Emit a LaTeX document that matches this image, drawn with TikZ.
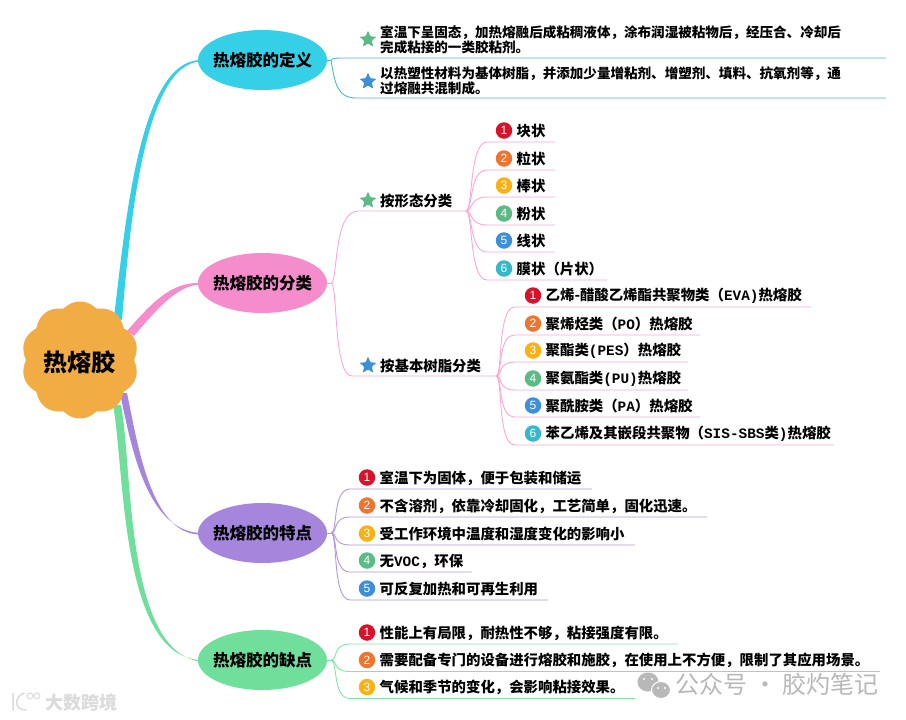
\documentclass[tikz,border=0pt]{standalone}
\usepackage{fontspec}
\setmainfont{Noto Sans CJK SC}
\newfontfamily\latinm{Liberation Mono}
\newfontfamily\digitf{Liberation Sans}
\usetikzlibrary{shapes.geometric}
\definecolor{b1}{HTML}{D7122A}
\definecolor{b2}{HTML}{EE7530}
\definecolor{b3}{HTML}{FBB014}
\definecolor{b4}{HTML}{5CBA85}
\definecolor{b5}{HTML}{3D8FD8}
\definecolor{b6}{HTML}{35B8C8}
\definecolor{cCyan}{HTML}{35D0E8}
\definecolor{cPink}{HTML}{F58CCB}
\definecolor{cPurple}{HTML}{A586DC}
\definecolor{cGreen}{HTML}{70DF9C}
\definecolor{cRoot}{HTML}{F2AC44}
\definecolor{wm}{HTML}{B8B8B8}
\tikzset{
  topic/.style={ellipse,minimum width=129pt,minimum height=60pt,inner xsep=-5pt,inner ysep=0pt,font=\fontsize{16.5}{18}\selectfont\bfseries},
  bulletdot/.style={circle,minimum size=16.5pt,inner sep=0pt,text=white,font=\fontsize{12}{12}\selectfont\digitf},
  label/.style={anchor=west,inner sep=0pt,font=\fontsize{14.4}{15}\selectfont\bfseries,align=left},
  deflabel/.style={anchor=west,inner sep=0pt,font=\fontsize{13.55}{15}\selectfont\bfseries,align=left},
  starmark/.style={star,star points=5,star point ratio=2.3,minimum size=18pt,inner sep=0pt,rounded corners=1pt},
  lnCyan/.style={draw=cCyan!55!teal!80,line width=0.9pt},
  lnPink/.style={draw=cPink!75,line width=0.9pt},
  lnPurple/.style={draw=cPurple!85,line width=0.9pt},
  lnGreen/.style={draw=cGreen!85,line width=0.9pt}
}
\newcommand{\lat}[1]{{\latinm #1}}
% name, source, line style, start x, line y, end x, bullet x, number, text
\newcommand{\mmitem}[9]{%
  \coordinate (#1-s) at (#4,#5);
  \coordinate (#1-e) at (#6,#5);
  \draw[#3] (#2) .. controls +(7,0) and ([xshift=-18pt]#1-s) .. (#1-s) -- (#1-e);
  \node[bulletdot,fill=b#8] (#1-b) at (#7,#5-11.5) {#8};
  \node[label] (#1-t) at (#7+12.5,#5-11) {#9};
}
\begin{document}
\begin{tikzpicture}[x=1pt,y=-1pt]
\useasboundingbox (0,0) rectangle (906,720);
\fill[white] (0,0) rectangle (906,720);

\path (262.5,60) node[topic] (def) {} (262.5,283) node[topic] (cls) {} (262.5,533) node[topic] (fea) {} (262.5,660) node[topic] (dis) {};

% tapered branches
\fill[cCyan] (114,317) .. controls (125,230) and (138,62) .. ([xshift=2pt]def.west) -- ([xshift=2pt,yshift=-1.5pt]def.west) .. controls (145,65) and (130,220) .. (122,320) -- cycle;
\fill[cPink] (127,331) .. controls (150,305) and (170,282) .. ([xshift=2pt]cls.west) -- ([xshift=2pt,yshift=-1.5pt]cls.west) .. controls (178,286) and (160,305) .. (134,336) -- cycle;
\fill[cGreen] (113,405) .. controls (125,470) and (120,655) .. ([xshift=2pt]dis.west) -- ([xshift=2pt,yshift=-1.5pt]dis.west) .. controls (125,650) and (133,470) .. (121,405) -- cycle;
\fill[cPurple] (120,393) .. controls (130,440) and (145,530) .. ([xshift=2pt]fea.west) -- ([xshift=2pt,yshift=-1.5pt]fea.west) .. controls (150,534) and (137,440) .. (127,393) -- cycle;

% root cloud
\fill[cRoot] plot[domain=0:360,samples=361] ({80+(54+4.5*abs(cos(5*(\x-90))))*cos(\x)},{360-(54+4.5*abs(cos(5*(\x-90))))*sin(\x)}) -- cycle;
\node[inner sep=0pt,font=\fontsize{24}{26}\selectfont\bfseries] (root) at (79,362) {热熔胶};

% topic ellipses
\node[topic,fill=cCyan] (def) at (262.5,60) {热熔胶的定义};
\node[topic,fill=cPink] (cls) at (262.5,283) {热熔胶的分类};
\node[topic,fill=cPurple] (fea) at (262.5,533) {热熔胶的特点};
\node[topic,fill=cGreen] (dis) at (262.5,660) {热熔胶的缺点};

% definition
\coordinate (defj) at (331,60);
\draw[lnCyan] (def.east) -- (defj);
\draw[lnCyan] (defj) .. controls +(2,-2) and (336,58) .. (345,58) -- (886,58);
\draw[lnCyan] (defj) .. controls +(4,25) and (338,98) .. (356,98) -- (886,98);
\node[starmark,fill=b4] (s1) at (368,39.5) {};
\node[starmark,fill=b5] (s2) at (368,81.5) {};
\node[deflabel] (d1) at (380,39.5) {室温下呈固态，加热熔融后成粘稠液体，涂布润湿被粘物后，经压合、冷却后\\完成粘接的一类胶粘剂。};
\node[deflabel] (d2) at (380,80.5) {以热塑性材料为基体树脂，并添加少量增粘剂、增塑剂、填料、抗氧剂等，通\\过熔融共混制成。};

% classification
\coordinate (clsj) at (331,283);
\draw[lnPink] (cls.east) -- (clsj);
\coordinate (fj) at (466,211);
\coordinate (rj) at (496,376);
\draw[lnPink] (clsj) .. controls +(7,0) and (333,211) .. (358,211) -- (fj);
\draw[lnPink] (clsj) .. controls +(7,0) and (333,376) .. (352,376) -- (rj);
\node[starmark,fill=b4] (s3) at (368,200.5) {};
\node[starmark,fill=b5] (s4) at (368,365.5) {};
\node[label] (f0) at (380,200.5) {按形态分类};
\node[label] (r0) at (380,366) {按基本树脂分类};

\mmitem{f1}{fj}{lnPink}{487}{142}{555}{504}{1}{块状}
\mmitem{f2}{fj}{lnPink}{487}{170}{555}{504}{2}{粒状}
\mmitem{f3}{fj}{lnPink}{487}{197}{555}{504}{3}{棒状}
\mmitem{f4}{fj}{lnPink}{487}{225}{555}{504}{4}{粉状}
\mmitem{f5}{fj}{lnPink}{487}{252}{555}{504}{5}{线状}
\mmitem{f6}{fj}{lnPink}{487}{280}{607}{504}{6}{膜状（片状）}

\mmitem{r1}{rj}{lnPink}{515}{307}{811}{533}{1}{乙烯-醋酸乙烯酯共聚物类（\lat{EVA)}热熔胶}
\mmitem{r2}{rj}{lnPink}{515}{335}{700}{533}{2}{聚烯烃类（\lat{PO}）热熔胶}
\mmitem{r3}{rj}{lnPink}{515}{362}{688}{533}{3}{聚酯类\lat{(PES}）热熔胶}
\mmitem{r4}{rj}{lnPink}{515}{390}{688}{533}{4}{聚氨酯类\lat{(PU)}热熔胶}
\mmitem{r5}{rj}{lnPink}{515}{417}{700}{533}{5}{聚酰胺类（\lat{PA}）热熔胶}
\mmitem{r6}{rj}{lnPink}{515}{445}{834}{533}{6}{苯乙烯及其嵌段共聚物（\lat{SIS-SBS}类\lat{)}热熔胶}

% features
\coordinate (feaj) at (331,533);
\draw[lnPurple] (fea.east) -- (feaj);
\mmitem{a1}{feaj}{lnPurple}{350}{489}{592}{367}{1}{室温下为固体，便于包装和储运}
\mmitem{a2}{feaj}{lnPurple}{350}{517}{707}{367}{2}{不含溶剂，依靠冷却固化，工艺简单，固化迅速。}
\mmitem{a3}{feaj}{lnPurple}{350}{545}{635}{367}{3}{受工作环境中温度和湿度变化的影响小}
\mmitem{a4}{feaj}{lnPurple}{350}{572}{472}{367}{4}{无\lat{VOC}，环保}
\mmitem{a5}{feaj}{lnPurple}{350}{600}{548}{367}{5}{可反复加热和可再生利用}

% drawbacks
\coordinate (disj) at (331,660);
\draw[lnGreen] (dis.east) -- (disj);
\mmitem{c1}{disj}{lnGreen}{350}{644}{678}{367}{1}{性能上有局限，耐热性不够，粘接强度有限。}
\mmitem{c2}{disj}{lnGreen}{350}{671.5}{880}{367}{2}{需要配备专门的设备进行熔胶和施胶，在使用上不方便，限制了其应用场景。}
\mmitem{c3}{disj}{lnGreen}{350}{698.5}{635}{367}{3}{气候和季节的变化，会影响粘接效果。}

% watermarks
\fill[wm] (648,682) ellipse (10.5 and 9.5);
\fill[wm,draw=white,line width=1pt] (661,690) ellipse (9.5 and 8.5);
\fill[white] (644,679) circle (1.2) (652,679) circle (1.2) (658,688) circle (1.1) (665,688) circle (1.1);
\node[anchor=west,inner sep=0pt,text=wm,font=\fontsize{24}{26}\selectfont] (wm1) at (675.5,684) {公众号 · 胶灼笔记};
\node[anchor=west,inner sep=0pt,text=black!14,font=\fontsize{18}{20}\selectfont\bfseries] (wm2) at (45,703) {大数跨境};
\draw[black!14,line width=1.5pt,line cap=round] (13,693) -- (13,710) (24,693) .. controls (14,697) and (14,710) .. (26,710);
\draw[black!14,line width=1pt] (30,696) circle (3) (37,696) circle (3);
\end{tikzpicture}
\end{document}
